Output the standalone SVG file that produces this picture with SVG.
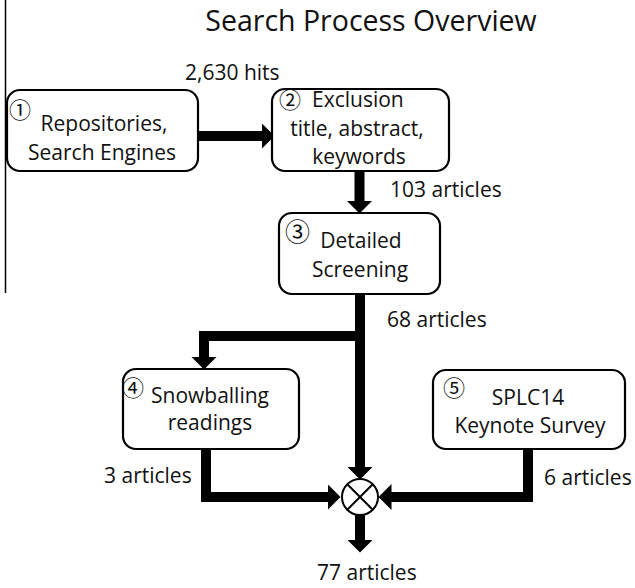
<svg xmlns="http://www.w3.org/2000/svg" width="635" height="588" viewBox="0 0 635 588">
<style>
.box{fill:#fff;stroke:#000;stroke-width:2.2}
.t{font-family:"Open Sans","Liberation Sans",sans-serif;font-size:21px;fill:#111}
.c{text-anchor:middle}
.num{font-family:"Noto Sans CJK JP","DejaVu Sans",sans-serif;font-size:22px;fill:#111}
.bar{fill:none;stroke:#000;stroke-width:10;stroke-linecap:butt;stroke-linejoin:miter}
</style>
<defs>
<marker id="ah" markerUnits="userSpaceOnUse" viewBox="0 0 13 26" markerWidth="13" markerHeight="26" refX="0.5" refY="13" orient="auto">
<path d="M0,0 L13,13 L0,26 z" fill="#000"/>
</marker>
</defs>
<line x1="5.5" y1="0" x2="5.5" y2="293" stroke="#000" stroke-width="1.5"/>
<text class="t c" x="371" y="31" style="font-size:28.5px">Search Process Overview</text>
<g id="connectors">
<polyline class="bar" points="198,136 262,136" stroke-width="11" marker-end="url(#ah)"/>
<polyline class="bar" points="359.5,171 359.5,201" stroke-width="9" marker-end="url(#ah)"/>
<polyline class="bar" points="360,294 360,467" marker-end="url(#ah)"/>
<polyline class="bar" points="360,336 204,336 204,357" stroke-width="8.5" marker-end="url(#ah)"/>
<polyline class="bar" points="206,449 206,497 328,497" marker-end="url(#ah)"/>
<polyline class="bar" points="528,449 528,497 391,497" marker-end="url(#ah)"/>
<polyline class="bar" points="360,515 360,540" marker-end="url(#ah)"/>
<text class="t" x="185" y="80">2,630 hits</text>
<text class="t" x="390" y="197">103 articles</text>
<text class="t" x="387" y="327">68 articles</text>
<text class="t" x="104" y="483">3 articles</text>
<text class="t" x="544" y="485">6 articles</text>
<text class="t" x="317" y="580">77 articles</text>
</g>
<g id="merge">
<circle cx="360" cy="497" r="18" fill="#fff" stroke="#000" stroke-width="2"/>
<path d="M347.3,484.3 L372.7,509.7 M372.7,484.3 L347.3,509.7" stroke="#000" stroke-width="2"/>
</g>
<g id="node1">
<rect class="box" x="7" y="90" width="191" height="81" rx="13"/>
<text class="num" x="9" y="118">①</text>
<text class="t c" x="104" y="131">Repositories,</text>
<text class="t c" x="102" y="160">Search Engines</text>
</g>
<g id="node2">
<rect class="box" x="272" y="89" width="177" height="82" rx="13"/>
<text class="num" x="279" y="108">②</text>
<text class="t" x="312" y="107">Exclusion</text>
<text class="t c" x="357" y="136">title, abstract,</text>
<text class="t c" x="359" y="164">keywords</text>
</g>
<g id="node3">
<rect class="box" x="279" y="213" width="161" height="81" rx="13"/>
<text class="num" x="285" y="241" style="font-size:25px">③</text>
<text class="t c" x="361" y="248">Detailed</text>
<text class="t c" x="360" y="277">Screening</text>
</g>
<g id="node4">
<rect class="box" x="123" y="369" width="176" height="80" rx="13"/>
<text class="num" x="122" y="396">④</text>
<text class="t c" x="210" y="403">Snowballing</text>
<text class="t c" x="210" y="430">readings</text>
</g>
<g id="node5">
<rect class="box" x="433" y="370" width="192" height="79" rx="13"/>
<text class="num" x="443" y="396">⑤</text>
<text class="t c" x="528" y="405">SPLC14</text>
<text class="t c" x="530" y="433">Keynote Survey</text>
</g>
</svg>
